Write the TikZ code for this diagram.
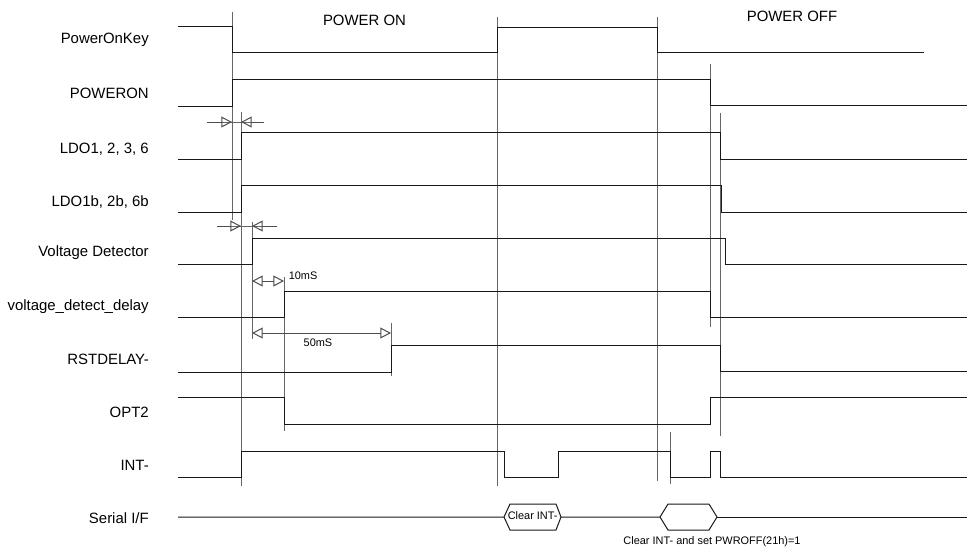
\documentclass[tikz,border=0pt]{standalone}
\usepackage{fontspec}
\setmainfont{Liberation Sans}
\usepackage{tikz}
\usetikzlibrary{arrows.meta}
\tikzstyle{wave}=[draw=black!90, line width=0.75pt]
\tikzstyle{marker}=[draw=black!60, line width=0.75pt]
\tikzstyle{dim}=[draw=black!70, line width=0.75pt, -{Triangle[open, length=8pt, width=8.2pt]}]
\tikzstyle{siglabel}=[anchor=base east, inner sep=0pt, font=\fontsize{11.2pt}{13pt}\selectfont]
\tikzstyle{note}=[inner sep=0pt, font=\fontsize{8.2pt}{10pt}\selectfont]

\begin{document}
\begin{tikzpicture}[x=0.75pt, y=-0.75pt]
        \useasboundingbox (0,0) rectangle (967,546);

        % Signal names
        \foreach \y/\t [count=\i] in {43.3/PowerOnKey, 98.7/POWERON, 153.3/{LDO1, 2, 3, 6},
            206/{LDO1b, 2b, 6b}, 256.7/Voltage Detector, 310.7/voltage\_detect\_delay,
            364.3/RSTDELAY-, 417.3/OPT2, 470/INT-, 523.3/{Serial I/F}}
          \node at (149, \y) [siglabel] (name_\i) {\t};

        % Phases
        \node at (364.5, 25) [siglabel, anchor=base] (phase_on) {POWER ON};
        \node at (792, 21.7) [siglabel, anchor=base] (phase_off) {POWER OFF};

        % Timing marks
        \foreach \x/\a/\b in {232/12/220, 241/112/486, 252/222/339, 284/277/431,
            391/323/376, 497/17/486, 657/17/481, 670/432/484, 710/64/327, 720/113/436}
          \draw [marker] (\x, \a) -- (\x, \b);

        % Waveforms
        \draw [wave] (178,26) -- (232,26) -- (232,52) -- (497,52) -- (497,27)
          -- (657,27) -- (657,52) -- (924,52);
        \draw [wave] (178,106) -- (232,106) -- (232,79) -- (710,79) -- (710,105) -- (967,105);
        \draw [wave] (178,159) -- (241,159) -- (241,132) -- (720,132) -- (720,159) -- (967,159);
        \draw [wave] (178,212) -- (241,212) -- (241,185) -- (721,185) -- (721,212) -- (967,212);
        \draw [wave] (178,264) -- (252,264) -- (252,238) -- (725,238) -- (725,264) -- (967,264);
        \draw [wave] (178,317) -- (284,317) -- (284,291) -- (710,291) -- (710,317) -- (967,317);
        \draw [wave] (178,372) -- (391,372) -- (391,345) -- (720,345) -- (720,371) -- (967,371);
        \draw [wave] (178,397) -- (284,397) -- (284,424) -- (710,424) -- (710,397) -- (967,397);
        \draw [wave] (178,477) -- (241,477) -- (241,451) -- (504,451) -- (504,477)
          -- (558,477) -- (558,451) -- (670,451) -- (670,477) -- (710,477) -- (710,451)
          -- (720,451) -- (720,477) -- (967,477);

        % Serial I/F
        \draw [wave] (178,517) -- (504,517) -- (510,504) -- (556,504) -- (561,517)
          -- (556,530) -- (510,530) -- (504,517);
        \draw [wave] (561,517) -- (660,517) -- (668,504) -- (709,504) -- (717,517)
          -- (709,530) -- (668,530) -- (660,517);
        \draw [wave] (717,517) -- (967,517);
        \node at (532.7, 519.3) [note, anchor=base] (clear_int) {Clear INT-};
        \node at (712, 544) [note, anchor=base] (clear_off) {Clear INT- and set PWROFF(21h)=1};

        % Delays
        \draw [marker] (207,122) -- (264,122);
        \draw [dim] (207,122) -- (232,122);
        \draw [dim] (264,122) -- (241,122);
        \draw [marker] (217,226) -- (277,226);
        \draw [dim] (217,226) -- (241,226);
        \draw [dim] (277,226) -- (252,226);
        \draw [dim] (268,281) -- (252,281);
        \draw [dim] (268,281) -- (284,281);
        \draw [dim] (320,333) -- (252,333);
        \draw [dim] (320,333) -- (391,333);

        % Text
        \node at (288.5, 279.3) [note, anchor=base west] (delay_10) {10mS};
        \node at (318, 346.7) [note, anchor=base] (delay_50) {50mS};
      \end{tikzpicture}
\end{document}
